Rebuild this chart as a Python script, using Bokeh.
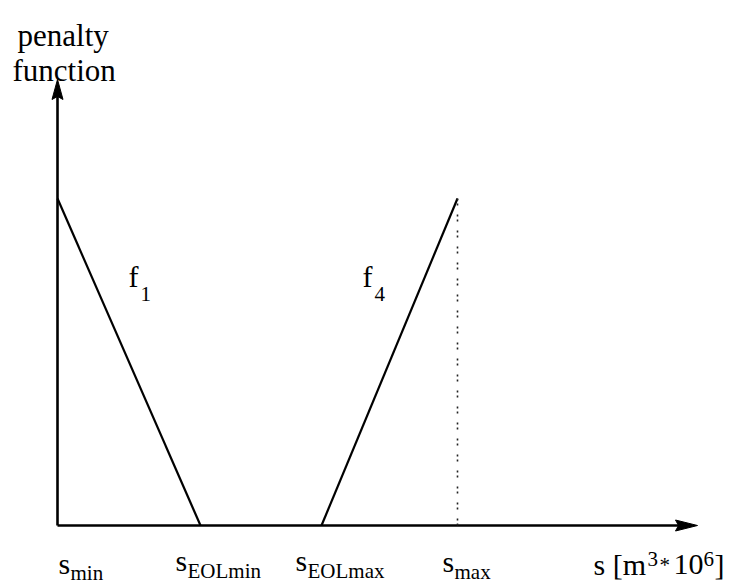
from bokeh.plotting import figure
from bokeh.models import Range1d
from bokeh.embed import file_html
from bokeh.resources import INLINE
from bokeh.core.properties import value

# ---------------- data ----------------
S_NAMES = ["min", "EOLmin", "EOLmax", "max"]      # subscripts of the s tick labels
S_VALUES = [0.0, 1.43, 2.64, 4.0]                 # storage positions on the s axis
F1_S = [0.0, 1.43]                                # f1: from s_min to s_EOLmin
F1_PENALTY = [1.0, 0.0]
F4_S = [2.64, 4.0]                                # f4: from s_EOLmax to s_max
F4_PENALTY = [0.0, 1.0]
S_AXIS_END = 6.4
PENALTY_AXIS_END = 1.364
Y_TITLE = ["penalty", "function"]
CURVE_NAMES = ["f", "f"]
CURVE_SUBS = ["1", "4"]
X_TITLE_PARTS = ["s [m", "3", "*", "10", "6", "]"]

# ---------------- layout ----------------
W, H = 729, 583
PX_X = 100.0          # pixels per unit of s
PX_Y = 327.0          # pixels per unit of penalty
ORIGIN_X = 57.0       # frame pixel of s = 0
ORIGIN_Y = 525.0      # frame pixel (from top) of penalty = 0
FONT = value("Liberation Serif")
BIG = "30px"
SMALL = "21px"


def dx(px):
    return px / PX_X


def dy(px):
    return px / PX_Y


p = figure(
    width=W, height=H,
    x_range=Range1d(-ORIGIN_X / PX_X, (W - ORIGIN_X) / PX_X),
    y_range=Range1d(-(H - ORIGIN_Y) / PX_Y, ORIGIN_Y / PX_Y),
    x_axis_type=None, y_axis_type=None,
    output_backend="svg", toolbar_location=None,
    min_border=0,
)
p.grid.visible = False
p.outline_line_color = None
p.background_fill_color = "white"
p.border_fill_color = "white"

# axes with arrowheads
p.line([0, S_AXIS_END - dx(18)], [0, 0], line_width=2.6, color="black")
p.patch([S_AXIS_END, S_AXIS_END - dx(22), S_AXIS_END - dx(19), S_AXIS_END - dx(22)],
        [0, dy(5.5), 0, -dy(5.5)], color="black", line_width=1)
p.line([0, 0], [0, PENALTY_AXIS_END - dy(16)], line_width=2.6, color="black")
p.patch([0, -dx(5.5), 0, dx(5.5)],
        [PENALTY_AXIS_END, PENALTY_AXIS_END - dy(20), PENALTY_AXIS_END - dy(17), PENALTY_AXIS_END - dy(20)],
        color="black", line_width=1)

# penalty functions
p.line(F1_S, F1_PENALTY, line_width=2.2, color="black")
p.line(F4_S, F4_PENALTY, line_width=2.2, color="black")
p.line([F4_S[-1], F4_S[-1]], [0, F4_PENALTY[-1]], line_width=1.6, color="#222222",
       line_dash="2 3 2 9")

# tick labels s_xxx
S_DX = [1, -25, -26, -15]        # pixel offset of the label from its tick
S_BASE = [38, 35, 35, 36]        # baseline of the 's' below the axis
SUB_BASE = [47, 45, 45, 46]      # baseline of the subscript below the axis
p.text(x=[v + dx(o) for v, o in zip(S_VALUES, S_DX)],
       y=[-dy(b) for b in S_BASE],
       text=["s"] * len(S_VALUES), text_font=FONT, text_font_size=BIG,
       text_baseline="alphabetic", text_align="left", text_color="black")
p.text(x=[v + dx(o + 12) for v, o in zip(S_VALUES, S_DX)],
       y=[-dy(b) for b in SUB_BASE],
       text=S_NAMES, text_font=FONT, text_font_size=SMALL,
       text_baseline="alphabetic", text_align="left", text_color="black")

# y title
p.text(x=[-dx(40), -dx(45)],
       y=[PENALTY_AXIS_END + dy(44), PENALTY_AXIS_END + dy(9)],
       text=Y_TITLE, text_font=FONT, text_font_size="31px",
       text_baseline="alphabetic", text_align="left", text_color="black")

# curve labels f1, f4
CURVE_X = [F1_S[0] + dx(71), F4_S[0] + dx(41)]
p.text(x=CURVE_X, y=[F1_PENALTY[0] - dy(78)] * 2,
       text=CURVE_NAMES, text_font=FONT, text_font_size=BIG,
       text_baseline="alphabetic", text_align="left", text_color="black")
p.text(x=[c + dx(12) for c in CURVE_X], y=[F1_PENALTY[0] - dy(95)] * 2,
       text=CURVE_SUBS, text_font=FONT, text_font_size=SMALL,
       text_baseline="alphabetic", text_align="left", text_color="black")

# x title: s [m^3 * 10^6]
XT_DX = [-104, -50, -38, -24, 6, 17]
XT_BASE = [39, 33, 39, 39, 33, 39]
XT_SIZE = [BIG, SMALL, SMALL, BIG, SMALL, BIG]
for part, ox, ob, fs in zip(X_TITLE_PARTS, XT_DX, XT_BASE, XT_SIZE):
    p.text(x=[S_AXIS_END + dx(ox)], y=[-dy(ob)], text=[part], text_font=FONT,
           text_font_size=fs, text_baseline="alphabetic", text_align="left",
           text_color="black")

open("out.html", "w").write(file_html(p, INLINE))
